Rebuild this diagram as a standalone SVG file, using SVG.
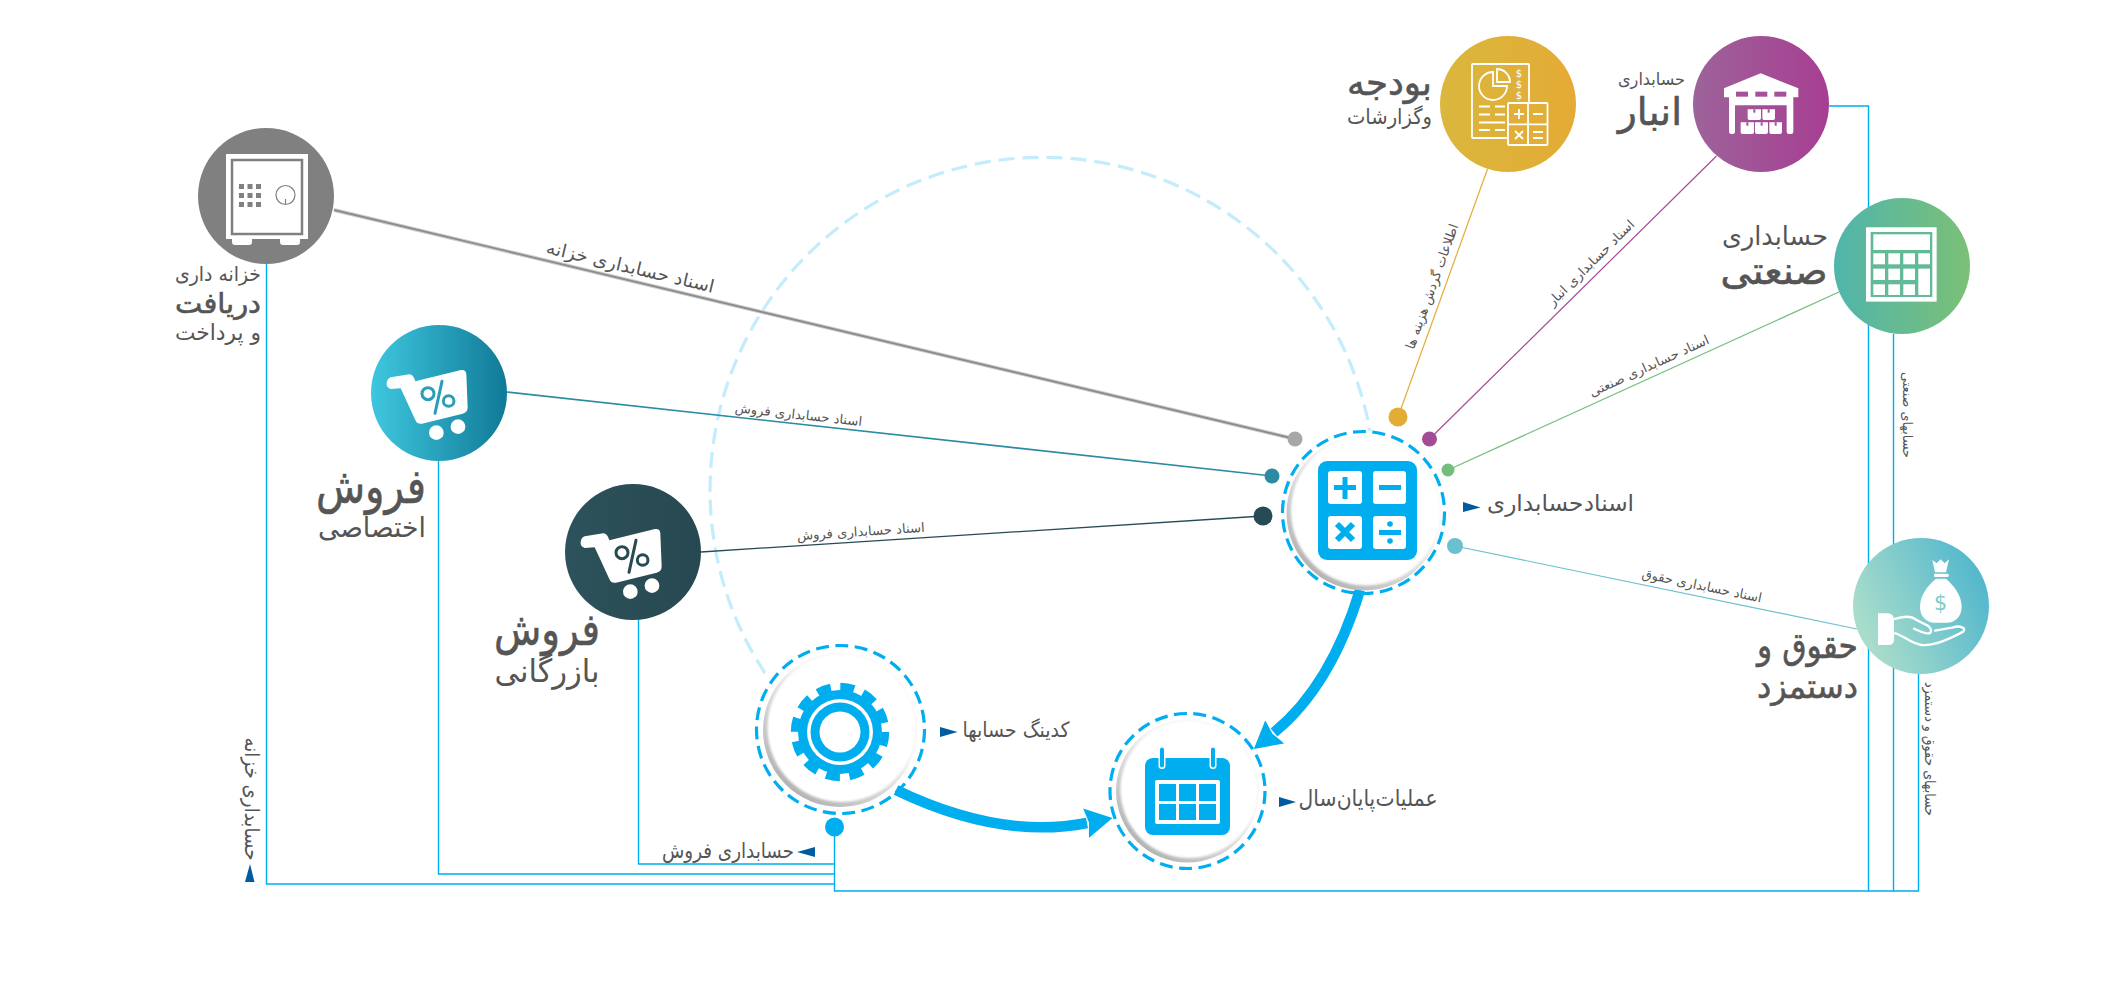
<svg xmlns="http://www.w3.org/2000/svg" xmlns:xlink="http://www.w3.org/1999/xlink" width="2111" height="994" viewBox="0 0 2111 994">
<style>
text{font-family:"DejaVu Sans",sans-serif;fill:#555;text-anchor:middle;direction:rtl}
.big{stroke:#555;stroke-width:.6}
.w{fill:#fff}
.bl{fill:none;stroke:#00aeef;stroke-width:1.4}
.ring{fill:none;stroke:#00aeef;stroke-width:3.200;stroke-dasharray:13 6.500}
.thick{fill:none;stroke:#00aeef;stroke-width:10.500;marker-end:url(#head)}
.b{fill:#00aeef}
.tri{fill:#005b9f}
.edge{font-size:13px}
</style>
<defs>
<marker id="head" markerUnits="userSpaceOnUse" markerWidth="27" markerHeight="30" refX="1" refY="15" orient="auto"><path d="M0 0L27 15L0 30L3 15Z" fill="#00aeef"/></marker>
<linearGradient id="gSale"><stop offset="0" stop-color="#3fc7df"/><stop offset="1" stop-color="#107a97"/></linearGradient>
<linearGradient id="gDark"><stop offset="0" stop-color="#2d525b"/><stop offset="1" stop-color="#274850"/></linearGradient>
<linearGradient id="gBudget"><stop offset="0" stop-color="#dab73d"/><stop offset="1" stop-color="#e4ab35"/></linearGradient>
<linearGradient id="gWare"><stop offset="0" stop-color="#9d639a"/><stop offset="1" stop-color="#a73e92"/></linearGradient>
<linearGradient id="gInd"><stop offset="0" stop-color="#50b5ac"/><stop offset="1" stop-color="#7bc076"/></linearGradient>
<linearGradient id="gSal" x1="0" y1="0.75" x2="1" y2="0.3"><stop offset="0.1" stop-color="#a8dccb"/><stop offset="1" stop-color="#50b6cd"/></linearGradient>
<linearGradient id="gEdge" x1="0.85" y1="0.1" x2="0.2" y2="0.9"><stop offset="0.35" stop-color="#f6f6f6"/><stop offset="1" stop-color="#b4b4b4"/></linearGradient>
<filter id="soft" x="-10%" y="-10%" width="120%" height="120%"><feGaussianBlur stdDeviation="1.2"/></filter>
<g id="cart">
<path class="w" d="M92 172L148 163Q160 163 166 184L303 150Q318 148 319 163L323 262Q323 278 308 281L186 311Q172 314 166 300L122 205L92 207Q78 202 80 188Q82 176 92 172Z"/>
<circle cx="204" cy="221" r="18" fill="none" stroke="currentColor" stroke-width="9"/>
<circle cx="266" cy="243" r="16" fill="none" stroke="currentColor" stroke-width="9"/>
<path d="M246 184L225 280" fill="none" stroke="currentColor" stroke-width="9" stroke-linecap="round"/>
<circle class="w" cx="229" cy="338" r="22"/><circle class="w" cx="294" cy="320" r="22"/>
</g>
</defs>
<rect width="2111" height="994" fill="#fff"/>

<g id="connectors">
<path d="M765 673A332.6 332.6 0 1 1 1370 431" fill="none" stroke="#c3ecfc" stroke-width="3.200" stroke-dasharray="16 8"/>
<path class="bl" d="M266.500 263V884H834.500"/>
<path class="bl" d="M438.500 461V874H834.500"/>
<path class="bl" d="M638.500 612V864H834.500"/>
<path class="bl" d="M834.500 827V891H1918.500V674"/>
<path class="bl" d="M1829 106H1868.500V891"/>
<path class="bl" d="M1893.500 334V891"/>
<path d="M334 210L1295 439" stroke="#cfcfcf" stroke-width="4" fill="none"/>
<path d="M334 210L1295 439" stroke="#8c8c8c" stroke-width="1.800" fill="none"/>
<path d="M507 392L1272 476" stroke="#2a8ba3" stroke-width="1.600" fill="none"/>
<path d="M701 552L1263 516" stroke="#264b54" stroke-width="1.300" fill="none"/>
<path d="M1487.500 169L1398 417" stroke="#e3ac35" stroke-width="1.200" fill="none"/>
<path d="M1716.500 156L1429.500 439" stroke="#a44b98" stroke-width="1.200" fill="none"/>
<path d="M1839 292L1448 470" stroke="#74bd7c" stroke-width="1.200" fill="none"/>
<path d="M1857 629L1455 546" stroke="#6bc0ce" stroke-width="1.200" fill="none"/>
<path class="thick" d="M1360 590Q1331 686 1274 732.500"/>
<path class="thick" d="M896 790Q1000 840 1087 823"/>
<circle cx="1295" cy="439" r="7.500" fill="#a7a7a7"/>
<circle cx="1272" cy="476" r="7.500" fill="#2a8ba3"/>
<circle cx="1263" cy="516" r="9.500" fill="#264b54"/>
<circle cx="1398" cy="417" r="9.500" fill="#e3ac35"/>
<circle cx="1429.500" cy="439" r="7.500" fill="#a44b98"/>
<circle cx="1448" cy="470" r="6.500" fill="#74bd7c"/>
<circle cx="1455" cy="546" r="8" fill="#6bc0ce"/>
<circle cx="834.500" cy="827" r="9.500" fill="#00aeef"/>
<text transform="translate(629 273) rotate(13.400)" font-size="18" textLength="172" lengthAdjust="spacingAndGlyphs">اسناد حسابداری خزانه</text>
<text class="edge" transform="translate(798 419) rotate(6.300)" textLength="128" lengthAdjust="spacingAndGlyphs">اسناد حسابداری فروش</text>
<text class="edge" transform="translate(861 536) rotate(-3.700)" textLength="128" lengthAdjust="spacingAndGlyphs">اسناد حسابداری فروش</text>
<text class="edge" transform="translate(1436 288) rotate(-70.200)" textLength="132" lengthAdjust="spacingAndGlyphs">اطلاعات گردش هزینه ها</text>
<text class="edge" transform="translate(1594 266) rotate(-44.600)" textLength="116" lengthAdjust="spacingAndGlyphs">اسناد حسابداری انبار</text>
<text class="edge" transform="translate(1651 370) rotate(-24.500)" textLength="130" lengthAdjust="spacingAndGlyphs">اسناد حسابداری صنعتی</text>
<text class="edge" transform="translate(1701 590) rotate(11.700)" textLength="122" lengthAdjust="spacingAndGlyphs">اسناد حسابداری حقوق</text>
<text transform="translate(245 799) rotate(90)" font-size="20" textLength="123" lengthAdjust="spacingAndGlyphs">حسابداری خزانه</text>
<path class="tri" d="M250 864L254.500 882H245Z"/>
<text transform="translate(1903 415) rotate(90)" font-size="13" textLength="86" lengthAdjust="spacingAndGlyphs">حسابهای صنعتی</text>
<text transform="translate(1925 749) rotate(90)" font-size="14" textLength="134" lengthAdjust="spacingAndGlyphs">حسابهای حقوق و دستمزد</text>
</g>

<g id="node-safe">
<circle cx="266" cy="196" r="68" fill="#808080"/>
<rect class="w" x="226" y="154" width="82" height="85"/>
<rect x="232" y="160" width="70" height="74" fill="#fff" stroke="#808080" stroke-width="2.500"/>
<path class="w" d="M232 238H252V242Q252 245 249 245H235Q232 245 232 242ZM280 238H300V242Q300 245 297 245H283Q280 245 280 242Z"/>
<g fill="#808080"><rect x="239" y="184" width="5" height="5"/><rect x="247.500" y="184" width="5" height="5"/><rect x="256" y="184" width="5" height="5"/><rect x="239" y="193" width="5" height="5"/><rect x="247.500" y="193" width="5" height="5"/><rect x="256" y="193" width="5" height="5"/><rect x="239" y="202" width="5" height="5"/><rect x="247.500" y="202" width="5" height="5"/><rect x="256" y="202" width="5" height="5"/></g>
<circle cx="285.500" cy="195" r="9.500" fill="none" stroke="#808080" stroke-width="1.200"/><path d="M285.500 199V204.500" stroke="#808080" stroke-width="1.200"/>
<text x="218" y="281" font-size="20" textLength="86" lengthAdjust="spacingAndGlyphs">خزانه داری</text>
<text class="big" x="218" y="313" font-size="28" textLength="86" lengthAdjust="spacingAndGlyphs">دریافت</text>
<text x="218" y="340" font-size="22" textLength="86" lengthAdjust="spacingAndGlyphs">و پرداخت</text>
</g>

<g id="node-sale-special">
<circle cx="439" cy="393" r="68" fill="url(#gSale)"/>
<use xlink:href="#cart" transform="translate(360 320) scale(.3333)" color="#2a9db7"/>
<text class="big" x="371" y="503" font-size="48" textLength="110" lengthAdjust="spacingAndGlyphs">فروش</text>
<text x="372" y="537" font-size="28" textLength="108" lengthAdjust="spacingAndGlyphs">اختصاصی</text>
</g>

<g id="node-sale-commercial">
<circle cx="633" cy="552" r="68" fill="url(#gDark)"/>
<use xlink:href="#cart" transform="translate(554 479) scale(.3333)" color="#294a52"/>
<text class="big" x="547" y="645" font-size="45" textLength="106" lengthAdjust="spacingAndGlyphs">فروش</text>
<text x="547" y="682" font-size="32" textLength="105" lengthAdjust="spacingAndGlyphs">بازرگانی</text>
</g>

<g id="node-budget">
<circle cx="1508" cy="104" r="68" fill="url(#gBudget)"/>
<g fill="none" stroke="#fff" stroke-width="1.800">
<rect x="1472" y="64" width="57" height="74" rx="1"/>
<path d="M1493 72A14 14 0 1 0 1507 86L1493 86Z"/><path d="M1497 69A13 13 0 0 1 1510 82L1497 82Z"/>
<path d="M1479 106.500H1490M1495 106.500H1505M1479 114.500H1490M1495 114.500H1505M1479 122.500H1505M1479 130H1490M1495 130H1505"/>
<rect x="1508" y="103" width="39.500" height="42" rx="1" fill="#e1ae37"/>
<path d="M1528 103V145M1508 124.300H1547.500M1514 114H1524M1519 109V119M1533 114H1543M1515 131L1523 139M1523 131L1515 139M1533 132H1543M1533 138H1543"/>
</g>
<g font-size="10"><text class="w" x="1519" y="77">$</text><text class="w" x="1519" y="88">$</text><text class="w" x="1519" y="99">$</text></g>
<text class="big" x="1389.500" y="95" font-size="36" textLength="85" lengthAdjust="spacingAndGlyphs">بودجه</text>
<text x="1389.500" y="124" font-size="21" textLength="85" lengthAdjust="spacingAndGlyphs">وگزارشات</text>
</g>

<g id="node-warehouse">
<circle cx="1761" cy="104" r="68" fill="url(#gWare)"/>
<g transform="translate(1680 20) scale(.3333)">
<path class="w" d="M132 205L242 160L355 205V232H340V335Q340 342 333 342H327Q320 342 320 335V256H165V335Q165 342 158 342H154Q147 342 147 335V232H132Z"/>
<g fill="#a4509a"><rect x="168" y="215" width="36" height="15"/><rect x="226" y="215" width="36" height="15"/><rect x="283" y="215" width="36" height="15"/></g>
<path class="w" d="M203 268H243V295Q243 300 238 300H208Q203 300 203 295ZM247 268H285V295Q285 300 280 300H252Q247 300 247 295ZM182 307H222V336Q222 342 216 342H188Q182 342 182 336ZM225 307H264V336Q264 342 258 342H231Q225 342 225 336ZM268 307H306V336Q306 342 300 342H274Q268 342 268 336Z"/>
<g fill="#a4509a"><rect x="220" y="268" width="6" height="10"/><rect x="263" y="268" width="6" height="10"/><rect x="199" y="307" width="6" height="10"/><rect x="242" y="307" width="6" height="10"/><rect x="284" y="307" width="6" height="10"/></g>
</g>
<text x="1651.500" y="85" font-size="17" textLength="67" lengthAdjust="spacingAndGlyphs">حسابداری</text>
<text class="big" x="1650" y="125" font-size="38" textLength="64" lengthAdjust="spacingAndGlyphs">انبار</text>
</g>

<g id="node-industrial">
<circle cx="1902" cy="266" r="68" fill="url(#gInd)"/>
<g transform="translate(1680 20) scale(.3333)">
<rect class="w" x="558" y="622" width="212" height="223"/>
<rect x="572" y="636" width="185" height="195" fill="#62ba96"/>
<g class="w"><rect x="580" y="643" width="170" height="47"/><rect x="580" y="700" width="35" height="33"/><rect x="625" y="700" width="35" height="33"/><rect x="670" y="700" width="35" height="33"/><rect x="715" y="700" width="35" height="33"/><rect x="580" y="746" width="35" height="34"/><rect x="625" y="746" width="35" height="34"/><rect x="670" y="746" width="35" height="34"/><rect x="715" y="746" width="35" height="79"/><rect x="580" y="793" width="35" height="32"/><rect x="625" y="793" width="35" height="32"/><rect x="670" y="793" width="35" height="32"/></g>
</g>
<text x="1775" y="245" font-size="26" textLength="106" lengthAdjust="spacingAndGlyphs">حسابداری</text>
<text class="big" x="1774" y="284" font-size="38" textLength="107" lengthAdjust="spacingAndGlyphs">صنعتی</text>
</g>

<g id="node-salary">
<circle cx="1921" cy="606" r="68" fill="url(#gSal)"/>
<g transform="translate(1740 520) scale(.3333)">
<path class="w" d="M577 120L590 130L602 118L614 130L627 118L618 157H585Z"/>
<rect class="w" x="582" y="161" width="44" height="10" rx="3"/>
<path class="w" d="M588 176H618C640 195 665 225 665 260C665 290 645 308 620 308H585C560 308 540 290 540 260C540 225 565 195 588 176Z"/>
<text x="602" y="270" font-size="62" style="fill:#7ccbc9">$</text>
<path class="w" d="M414 280H445Q462 282 462 300V360Q462 375 445 375H414Z"/>
<path fill="none" stroke="#fff" stroke-width="7" stroke-linecap="round" d="M465 297C490 290 510 285 530 300L565 318C578 330 575 342 560 340C545 338 535 332 522 326M465 340C490 345 510 370 545 375C590 378 640 350 670 335C680 325 660 315 640 322L585 332"/>
</g>
<text class="big" x="1807.500" y="658" font-size="36" textLength="101" lengthAdjust="spacingAndGlyphs">حقوق و</text>
<text class="big" x="1807.500" y="698" font-size="34" textLength="101" lengthAdjust="spacingAndGlyphs">دستمزد</text>
</g>

<g id="node-documents">
<circle cx="1364" cy="513" r="77.500" fill="url(#gEdge)"/>
<circle cx="1365.500" cy="511" r="74.500" fill="#fff" filter="url(#soft)"/>
<circle class="ring" cx="1363.500" cy="512.500" r="81"/>
<rect class="b" x="1318" y="461" width="99" height="99" rx="9"/>
<g class="w"><rect x="1328" y="471" width="34" height="33" rx="3"/><rect x="1373" y="471" width="33" height="33" rx="3"/><rect x="1328" y="516" width="34" height="33" rx="3"/><rect x="1373" y="516" width="33" height="33" rx="3"/></g>
<g class="b"><rect x="1334" y="485" width="22" height="5"/><rect x="1342.500" y="477" width="5" height="22"/><rect x="1379" y="485" width="22" height="5"/><rect x="1379" y="530" width="22" height="5"/><circle cx="1390" cy="524" r="2.800"/><circle cx="1390" cy="541" r="2.800"/></g>
<path d="M1337 524L1353 540M1353 524L1337 540" stroke="#00aeef" stroke-width="6" fill="none"/>
<path class="tri" d="M1463 502L1480.500 507.500L1463 512Z"/>
<text x="1560.500" y="511" font-size="23" word-spacing="-7" textLength="147" lengthAdjust="spacingAndGlyphs">اسناد حسابداری</text>
</g>

<g id="node-coding">
<circle cx="840" cy="730" r="77" fill="url(#gEdge)"/>
<circle cx="841.500" cy="728" r="74" fill="#fff" filter="url(#soft)"/>
<circle class="ring" cx="840.500" cy="729.500" r="84"/>
<circle class="b" cx="840" cy="732" r="42"/>
<circle cx="840" cy="732" r="45" fill="none" stroke="#00aeef" stroke-width="8.500" stroke-dasharray="14 9.560"/>
<circle class="w" cx="840" cy="732" r="33"/>
<circle class="b" cx="840" cy="732" r="29.500"/>
<circle class="w" cx="840" cy="732" r="20.500"/>
<path class="tri" d="M940 727L957.500 732L940 737Z"/>
<text x="1016" y="737" font-size="21" textLength="107" lengthAdjust="spacingAndGlyphs">کدینگ حسابها</text>
</g>

<g id="node-yearend">
<circle cx="1187.500" cy="791" r="71.500" fill="url(#gEdge)"/>
<circle cx="1189" cy="789.500" r="68.500" fill="#fff" filter="url(#soft)"/>
<circle class="ring" cx="1187.500" cy="791" r="77.500"/>
<rect class="b" x="1145" y="758" width="85" height="77" rx="8"/>
<rect class="w" x="1158.500" y="746" width="7" height="23" rx="3.500"/><rect class="w" x="1209.500" y="746" width="7" height="23" rx="3.500"/>
<rect class="b" x="1160" y="747.500" width="4" height="20" rx="2"/><rect class="b" x="1211" y="747.500" width="4" height="20" rx="2"/>
<rect class="w" x="1155" y="780" width="65" height="44" rx="2"/>
<g class="b"><rect x="1159" y="784" width="17" height="17"/><rect x="1179" y="784" width="17" height="17"/><rect x="1199" y="784" width="17" height="17"/><rect x="1159" y="804" width="17" height="16"/><rect x="1179" y="804" width="17" height="16"/><rect x="1199" y="804" width="17" height="16"/></g>
<path class="tri" d="M1279 797L1296 802L1279 807Z"/>
<text x="1368" y="806" font-size="23" word-spacing="-7" textLength="139" lengthAdjust="spacingAndGlyphs">عملیات پایان سال</text>
</g>

<g id="label-sales-accounting">
<path class="tri" d="M815 847V857L797 852Z"/>
<text x="728" y="858" font-size="21" textLength="132" lengthAdjust="spacingAndGlyphs">حسابداری فروش</text>
</g>
</svg>
